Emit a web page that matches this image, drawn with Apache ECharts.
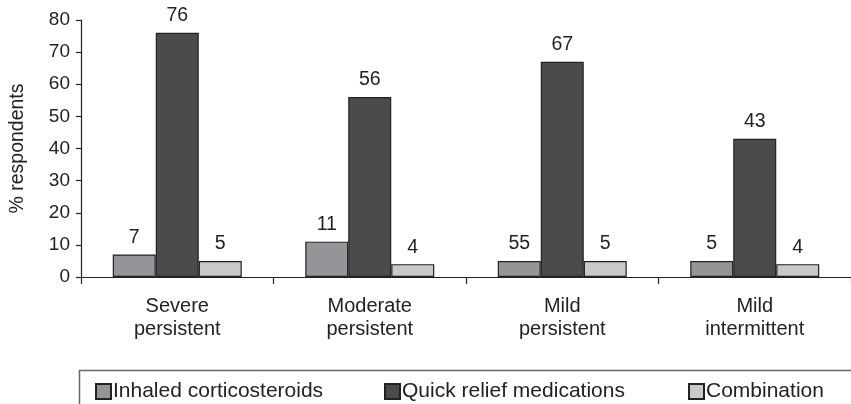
<!DOCTYPE html>
<html>
<head>
<meta charset="utf-8">
<script src="https://cdn.jsdelivr.net/npm/echarts@6/dist/echarts.min.js"></script>
<style>html,body{margin:0;padding:0;background:#fff}#c{width:851px;height:404px}</style>
</head>
<body>
<div id="c"></div>
<script>
var categories = ['Severe\npersistent', 'Moderate\npersistent', 'Mild\npersistent', 'Mild\nintermittent'];
var seriesNames = ['Inhaled corticosteroids', 'Quick relief medications', 'Combination'];
var inhaled = [7, 11, 5, 5];
var quickRelief = [76, 56, 67, 43];
var combination = [5, 4, 5, 4];
// labels as printed in the figure
var inhaledLabels = ['7', '11', '55', '5'];
var quickReliefLabels = ['76', '56', '67', '43'];
var combinationLabels = ['5', '4', '5', '4'];
var yTicks = [0, 10, 20, 30, 40, 50, 60, 70, 80];

var colors = ['#949598', '#4a4b4d', '#c8c9cb'];
var FONT = 'Liberation Sans';
var chart = echarts.init(document.getElementById('c'));

function mkSeries(name, data, labels, color) {
  return {
    name: name, type: 'bar', data: data,
    barWidth: 43, barGap: '0%',
    itemStyle: { color: color, borderColor: '#222', borderWidth: 1.2 },
    label: {
      show: true, position: 'top', distance: 7,
      fontFamily: FONT, fontSize: 19.5, color: '#222',
      formatter: function (p) { return labels[p.dataIndex]; }
    },
    emphasis: { disabled: true },
    animation: false
  };
}

function mkLegend(name, left) {
  return {
    data: [name], left: left, top: 381, orient: 'horizontal',
    icon: 'rect', itemWidth: 15, itemHeight: 15, itemGap: 0,
    padding: 0,
    textStyle: { fontFamily: FONT, fontSize: 21, color: '#222', padding: [0, 0, 0, -3] },
    selectedMode: false
  };
}

chart.setOption({
  animation: false,
  grid: { left: 80, top: 20, width: 774, height: 257 },
  xAxis: {
    type: 'category', data: categories,
    axisLine: { lineStyle: { color: '#222', width: 1.2 } },
    axisTick: { show: true, length: 7, lineStyle: { color: '#222', width: 1.2 } },
    axisLabel: { fontFamily: FONT, fontSize: 20, color: '#222', lineHeight: 23, margin: 18 },
    splitLine: { show: false }
  },
  yAxis: {
    type: 'value', min: yTicks[0], max: yTicks[yTicks.length - 1], interval: 10,
    name: '% respondents', nameLocation: 'middle', nameGap: 53, nameRotate: 90,
    nameTextStyle: { fontFamily: FONT, fontSize: 19.5, color: '#222' },
    axisLine: { show: true, lineStyle: { color: '#222', width: 1.2 } },
    axisTick: { show: true, length: 5, lineStyle: { color: '#222', width: 1.2 } },
    axisLabel: { fontFamily: FONT, fontSize: 19, color: '#222', margin: 11 },
    splitLine: { show: false }
  },
  legend: [
    mkLegend(seriesNames[0], 95),
    mkLegend(seriesNames[1], 384),
    mkLegend(seriesNames[2], 688)
  ],
  graphic: [{
    type: 'rect', shape: { x: 79.5, y: 370.5, width: 800, height: 60 },
    style: { fill: 'none', stroke: '#666', lineWidth: 1.5 }, silent: true, z: -1
  }],
  series: [
    mkSeries(seriesNames[0], inhaled, inhaledLabels, colors[0]),
    mkSeries(seriesNames[1], quickRelief, quickReliefLabels, colors[1]),
    mkSeries(seriesNames[2], combination, combinationLabels, colors[2])
  ]
});
</script>
</body>
</html>
